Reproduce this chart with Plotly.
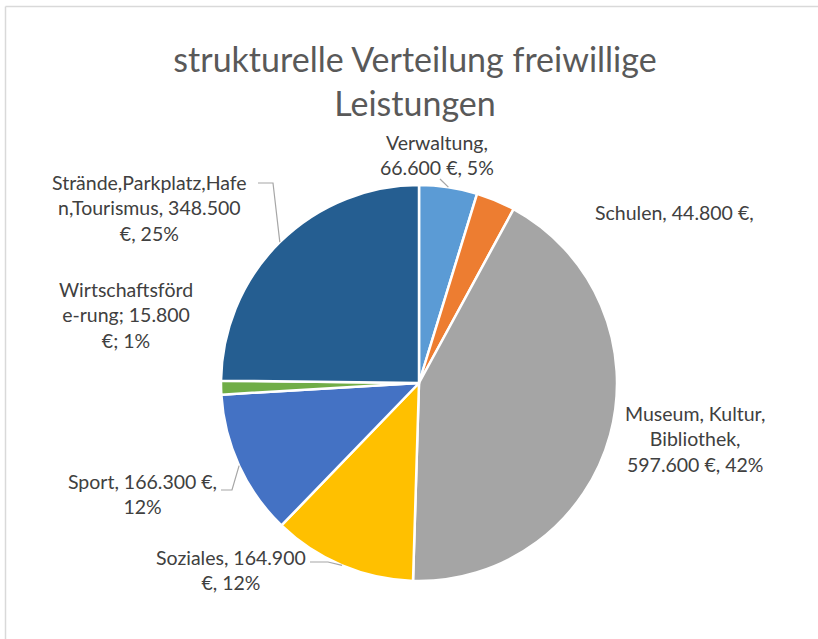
import math
import plotly.graph_objects as go

# ---------------- data ----------------
categories = [
    "Verwaltung",
    "Schulen",
    "Museum, Kultur, Bibliothek",
    "Soziales",
    "Sport",
    "Wirtschaftsförderung",
    "Strände,Parkplatz,Hafen,Tourismus",
]
values = [66600, 44800, 597600, 164900, 166300, 15800, 348500]
label_texts = [
    "Verwaltung,<br>66.600 €, 5%",
    "Schulen, 44.800 €,",
    "Museum, Kultur,<br>Bibliothek,<br>597.600 €, 42%",
    "Soziales, 164.900<br>€, 12%",
    "Sport, 166.300 €,<br>12%",
    "Wirtschaftsförd<br>e-rung; 15.800<br>€; 1%",
    "Strände,Parkplatz,Hafe<br>n,Tourismus, 348.500<br>€, 25%",
]
title_text = "strukturelle Verteilung freiwillige<br>Leistungen"

# ---------------- style / layout ----------------
W, H = 818, 639
colors = ["#5B9BD5", "#ED7D31", "#A5A5A5", "#FFC000", "#4472C4", "#70AD47", "#255E91"]
CX, CY, R = 419, 383, 198          # pie centre / radius in pixels
label_pos = [(437, 155.5), (674, 213), (695, 439), (231, 570), (142, 493.5), (126, 314.5), (149, 208.5)]
leader_start = {0: [(440, 179)], 3: [(310, 562), (328, 562)], 4: [(221, 490), (232, 490)], 6: [(258, 183), (273, 183)]}
FONT = "Lato, Carlito, Calibri, sans-serif"


def px(x):
    return x / W


def py(y):
    return 1 - y / H


fig = go.Figure(
    go.Pie(
        labels=categories,
        values=values,
        sort=False,
        direction="clockwise",
        rotation=0,
        marker=dict(colors=colors, line=dict(color="white", width=2.5)),
        textinfo="none",
        hoverinfo="label+value+percent",
        showlegend=False,
        domain=dict(x=[px(CX - R), px(CX + R)], y=[py(CY + R), py(CY - R)]),
    )
)

annotations = []
for txt, (lx, ly) in zip(label_texts, label_pos):
    annotations.append(
        dict(
            text=txt, x=px(lx), y=py(ly), xref="paper", yref="paper",
            xanchor="center", yanchor="middle", showarrow=False, align="center",
            font=dict(family=FONT, size=19.5, color="#404040"),
        )
    )

# leader lines: end point on the pie edge derived from the data
total = sum(values)
shapes = []
cum = 0
for i, v in enumerate(values):
    mid = (cum + v / 2) / total
    cum += v
    if i not in leader_start:
        continue
    a = 2 * math.pi * mid
    ex, ey = CX + R * math.sin(a), CY - R * math.cos(a)
    pts = leader_start[i] + [(ex, ey)]
    path = "M " + " L ".join(f"{px(x):.5f},{py(y):.5f}" for x, y in pts)
    shapes.append(dict(type="path", path=path, xref="paper", yref="paper",
                       line=dict(color="#A6A6A6", width=1.2)))

# chart frame (only left/top visible in the crop)
shapes.append(dict(type="line", xref="paper", yref="paper", x0=px(5.5), x1=px(5.5), y0=py(6.5), y1=py(700),
                   line=dict(color="#D9D9D9", width=1.5)))
shapes.append(dict(type="line", xref="paper", yref="paper", x0=px(5.5), x1=px(900), y0=py(6.5), y1=py(6.5),
                   line=dict(color="#D9D9D9", width=1.5)))

fig.update_layout(
    width=W, height=H,
    margin=dict(l=0, r=0, t=0, b=0),
    paper_bgcolor="white",
    title=dict(
        text=title_text, x=px(415), xanchor="center", y=py(72), yanchor="middle",
        font=dict(family=FONT, size=34, color="#595959"),
    ),
    annotations=annotations,
    shapes=shapes,
)

fig.write_html(
    "out.html",
    config={"displayModeBar": False},
    post_script="document.body.style.margin='0';document.body.style.overflow='hidden';",
)
